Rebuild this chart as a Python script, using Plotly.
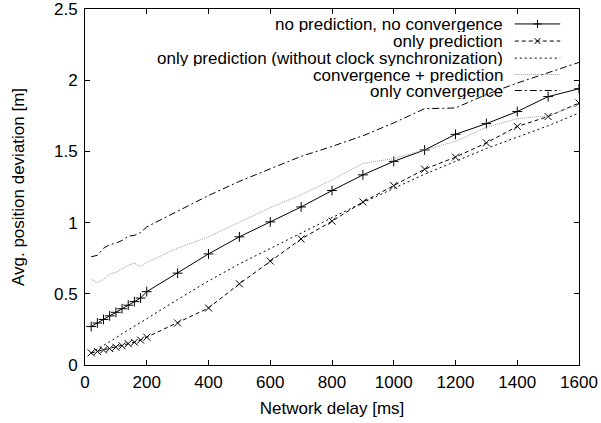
import plotly.graph_objects as go

delay = [20, 40, 60, 80, 100, 120, 140, 160, 180, 200, 300, 400, 500, 600,
         700, 800, 900, 1000, 1100, 1200, 1300, 1400, 1500, 1600]

no_pred_no_conv = [0.27, 0.295, 0.32, 0.345, 0.37, 0.395, 0.42, 0.445, 0.47, 0.515,
                   0.645, 0.78, 0.90, 1.005, 1.11, 1.225, 1.335, 1.43, 1.51, 1.62,
                   1.695, 1.78, 1.885, 1.94]
only_pred = [0.085, 0.095, 0.105, 0.115, 0.125, 0.135, 0.15, 0.16, 0.175, 0.195,
             0.295, 0.40, 0.57, 0.73, 0.885, 1.01, 1.145, 1.26, 1.375, 1.46,
             1.56, 1.675, 1.745, 1.84]
only_pred_noclock = [0.085, 0.11, 0.14, 0.165, 0.19, 0.22, 0.245, 0.27, 0.30, 0.325,
                     0.46, 0.59, 0.71, 0.82, 0.93, 1.035, 1.14, 1.24, 1.34, 1.43,
                     1.52, 1.60, 1.68, 1.77]
conv_pred = [0.60, 0.58, 0.60, 0.64, 0.65, 0.675, 0.70, 0.715, 0.69, 0.72,
             0.82, 0.90, 1.005, 1.105, 1.195, 1.30, 1.415, 1.45, 1.51, 1.57,
             1.67, 1.73, 1.75, 1.83]
only_conv = [0.76, 0.77, 0.82, 0.845, 0.855, 0.875, 0.905, 0.91, 0.93, 0.97,
             1.08, 1.19, 1.29, 1.38, 1.465, 1.535, 1.61, 1.70, 1.80, 1.805,
             1.90, 1.98, 2.05, 2.125]

series_names = ["no prediction, no convergence", "only prediction",
                "only prediction (without clock synchronization)",
                "convergence + prediction", "only convergence"]

FONT = "Liberation Sans, Arial, Helvetica, sans-serif"
FS = 17

styles = [
    dict(color="black", dash="solid", symbol="cross-thin"),
    dict(color="black", dash="4px,3px", symbol="x-thin"),
    dict(color="black", dash="2px,3px", symbol=None),
    dict(color="#9a9a9a", dash="1px,1px", symbol=None),
    dict(color="black", dash="7px,3px,2px,3px", symbol=None),
]
values = [no_pred_no_conv, only_pred, only_pred_noclock, conv_pred, only_conv]

fig = go.Figure()
for name, ys, st in zip(series_names, values, styles):
    mode = "lines+markers" if st["symbol"] else "lines"
    kw = {}
    if st["symbol"]:
        kw["marker"] = dict(symbol=st["symbol"], size=7, color="black",
                            line=dict(color="black", width=1))
    fig.add_trace(go.Scatter(x=delay, y=ys, name=name, mode=mode,
                             line=dict(color=st["color"], width=1, dash=st["dash"]),
                             showlegend=False, **kw))

# Legend drawn as text + key samples (compact gnuplot-style spacing)
row_y = [0.958, 0.910, 0.862, 0.816, 0.771]
text_x = 0.849
key_x0, key_x1, key_xm = 0.870, 0.962, 0.916
shapes = []
annotations = []
for name, st, ry in zip(series_names, styles, row_y):
    annotations.append(dict(x=text_x, y=ry, xref="paper", yref="paper", text=name,
                            showarrow=False, xanchor="right", yanchor="middle",
                            height=16, borderpad=0,
                            font=dict(family=FONT, size=FS, color="black")))
    shapes.append(dict(type="line", xref="paper", yref="paper",
                       x0=key_x0, x1=key_x1, y0=ry, y1=ry,
                       line=dict(color=st["color"], width=1, dash=st["dash"])))
    if st["symbol"] == "cross-thin":
        path = "M-4,0 L4,0 M0,-4 L0,4"
    elif st["symbol"] == "x-thin":
        path = "M-3,-3 L3,3 M-3,3 L3,-3"
    else:
        path = None
    if path:
        shapes.append(dict(type="path", xref="paper", yref="paper",
                           xsizemode="pixel", ysizemode="pixel",
                           xanchor=key_xm, yanchor=ry, path=path,
                           line=dict(color="black", width=1)))

axis_common = dict(showline=True, linecolor="black", linewidth=1, mirror="ticks",
                   ticks="inside", ticklen=5, tickcolor="black", showgrid=False,
                   zeroline=False, automargin=False, ticklabeloverflow="allow",
                   tickfont=dict(family=FONT, size=FS, color="black"))

fig.update_layout(
    template="none",
    width=601, height=423,
    margin=dict(l=85, r=22, t=9, b=58, autoexpand=False),
    paper_bgcolor="white", plot_bgcolor="white",
    font=dict(family=FONT, size=FS, color="black"),
    shapes=shapes, annotations=annotations,
    xaxis=dict(range=[0, 1600], dtick=200, tick0=0, ticklabelstandoff=2,
               title=dict(text="Network delay [ms]", standoff=10,
                          font=dict(family=FONT, size=FS)),
               **axis_common),
    yaxis=dict(range=[0, 2.5], dtick=0.5, tick0=0, ticklabelstandoff=3,
               title=dict(text="Avg. position deviation [m]", standoff=25,
                          font=dict(family=FONT, size=FS)),
               **axis_common),
)

fig.write_html("out.html", config={"displayModeBar": False},
               post_script="document.body.style.margin='0px';")
